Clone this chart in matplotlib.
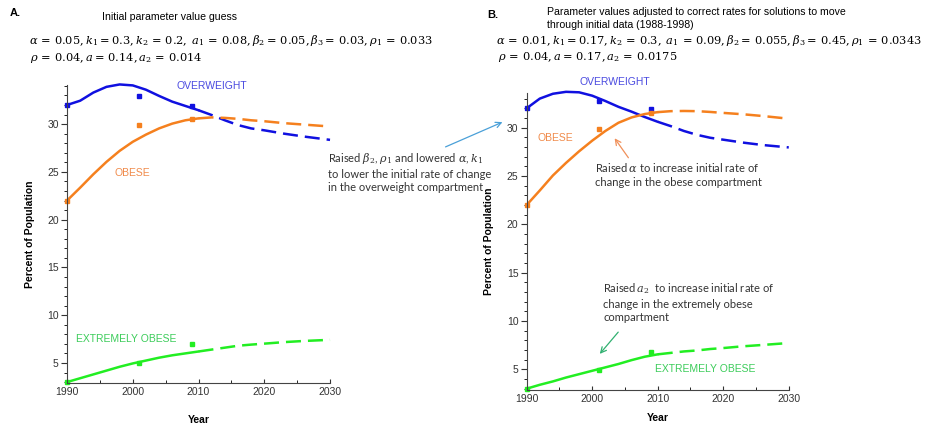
import numpy as np
import matplotlib
matplotlib.use("Agg")
import matplotlib.pyplot as plt
from matplotlib.patches import FancyArrowPatch
from matplotlib.ticker import MultipleLocator

plt.rcParams['mathtext.fontset'] = 'dejavuserif'
plt.rcParams['font.family'] = 'Liberation Sans'

years = [1990, 1992, 1994, 1996, 1998, 2000, 2002, 2004, 2006, 2008, 2010,
         2012, 2014, 2016, 2018, 2020, 2023, 2026, 2030]

# ---- panel A (initial guess) ----
a_over = [32.0, 32.45, 33.3, 33.9, 34.15, 34.05, 33.6, 32.95, 32.35, 31.9, 31.45,
          30.95, 30.4, 29.9, 29.55, 29.35, 29.0, 28.7, 28.35]
a_obese = [22.0, 23.35, 24.75, 26.05, 27.2, 28.15, 28.9, 29.55, 30.05, 30.4, 30.6,
           30.7, 30.65, 30.55, 30.4, 30.3, 30.1, 29.95, 29.75]
a_ext = [3.0, 3.4, 3.8, 4.2, 4.6, 4.95, 5.25, 5.55, 5.8, 6.0, 6.2,
         6.4, 6.6, 6.8, 6.92, 7.02, 7.18, 7.3, 7.42]

# ---- panel B (adjusted parameters) ----
b_over = [32.0, 33.0, 33.5, 33.7, 33.65, 33.3, 32.75, 32.15, 31.65, 31.1, 30.6,
          30.15, 29.65, 29.25, 28.95, 28.75, 28.45, 28.2, 27.95]
b_obese = [22.0, 23.5, 25.05, 26.35, 27.55, 28.65, 29.65, 30.5, 31.05, 31.4, 31.6,
           31.7, 31.72, 31.7, 31.62, 31.52, 31.38, 31.2, 30.92]
b_ext = [3.0, 3.4, 3.75, 4.15, 4.5, 4.85, 5.2, 5.55, 5.95, 6.3, 6.55,
         6.7, 6.85, 6.95, 7.1, 7.2, 7.38, 7.52, 7.72]

# observed data
obs_years = [1990, 2001, 2009]
a_over_obs = [32.0, 32.9, 31.85]
a_obese_obs = [22.0, 29.9, 30.5]
a_ext_obs = [3.0, 4.95, 6.96]
b_over_obs = [32.0, 32.8, 31.9]
b_obese_obs = [22.0, 29.9, 31.5]
b_ext_obs = [3.0, 4.9, 6.8]

blue = '#1010e0'
orange = '#f5801e'
green = '#22ee22'

fig = plt.figure(figsize=(9.26, 4.32), dpi=100)
axA = fig.add_axes([0.0724, 0.1134, 0.284, 0.69])
axB = fig.add_axes([0.5688, 0.0972, 0.283, 0.688])


def draw(ax, series, obs, ylim, xpad):
    yr = np.array(years)
    for vals, c in series:
        vals = np.array(vals)
        solid = yr <= 2010
        ax.plot(yr[solid], vals[solid], color=c, lw=1.8, solid_capstyle='round', clip_on=False)
        dash = yr >= 2010
        ax.plot(yr[dash], vals[dash], color=c, lw=1.8, dashes=(6, 2.8), clip_on=False)
    for vals, c in obs:
        ax.plot(obs_years, vals, 's', color=c, ms=2.5, clip_on=False)
    ax.set_xlim(1990, 2030)
    ax.set_ylim(*ylim)
    ax.spines['top'].set_visible(False)
    ax.spines['right'].set_visible(False)
    ax.spines['left'].set_color('#444444')
    ax.spines['bottom'].set_color('#444444')
    ax.set_xticks([1990, 2000, 2010, 2020, 2030])
    ax.set_yticks([5, 10, 15, 20, 25, 30])
    ax.xaxis.set_minor_locator(MultipleLocator(5))
    ax.yaxis.set_minor_locator(MultipleLocator(1))
    ax.tick_params(axis='x', direction='in', length=3, labelsize=7.5, pad=3, colors='#333333')
    ax.tick_params(axis='x', which='minor', direction='in', length=2)
    ax.tick_params(axis='y', direction='out', length=4, labelsize=7.5, pad=2, colors='#333333')
    ax.tick_params(axis='y', which='minor', direction='out', length=2)
    ax.set_xlabel('Year', fontsize=7.5, fontweight='bold', labelpad=xpad)
    ax.set_ylabel('Percent of Population', fontsize=7.5, fontweight='bold', labelpad=9)


draw(axA, [(a_over, blue), (a_obese, orange), (a_ext, green)],
     [(a_over_obs, blue), (a_obese_obs, orange), (a_ext_obs, green)], (2.9, 34.1), 13)
draw(axB, [(b_over, blue), (b_obese, orange), (b_ext, green)],
     [(b_over_obs, blue), (b_obese_obs, orange), (b_ext_obs, green)], (2.86, 33.6), 6)

lab = dict(fontsize=7.5, va='center', clip_on=False)
axA.text(2006.6, 34.0, 'OVERWEIGHT', color='#4a4ae0', **lab)
axA.text(1997.2, 24.9, 'OBESE', color='#f08a4a', **lab)
axA.text(1991.3, 7.5, 'EXTREMELY OBESE', color='#3ccc5a', **lab)
axB.text(1998.1, 34.7, 'OVERWEIGHT', color='#4a4ae0', **lab)
axB.text(1991.6, 28.9, 'OBESE', color='#f08a4a', **lab)
axB.text(2009.6, 5.0, 'EXTREMELY OBESE', color='#3ccc5a', **lab)

# annotations
note = dict(fontsize=8, color='#333333', linespacing=1.3, family='Lato')
fig.text(328 / 926, 1 - 151 / 432,
         'Raised $\\beta_2$, $\\rho_1$ and lowered $\\alpha$, $k_1$\n'
         'to lower the initial rate of change\nin the overweight compartment',
         va='top', **note)
fig.add_artist(FancyArrowPatch(
    (443 / 926, 1 - 148 / 432), (505 / 926, 1 - 121 / 432),
    transform=fig.transFigure, arrowstyle='->', mutation_scale=10, color='#4aa0d8', lw=0.9))

fig.text(595 / 926, 1 - 161 / 432,
         'Raised$\\,\\alpha$ to increase initial rate of\nchange in the obese compartment',
         va='top', **note)
fig.add_artist(FancyArrowPatch(
    (630 / 926, 1 - 160 / 432), (613 / 926, 1 - 136 / 432),
    transform=fig.transFigure, arrowstyle='->', mutation_scale=10, color='#f0905a', lw=0.9))

fig.text(603 / 926, 1 - 281 / 432,
         'Raised$\\,a_2$  to increase initial rate of\nchange in the extremely obese\ncompartment',
         va='top', **note)
fig.add_artist(FancyArrowPatch(
    (620 / 926, 1 - 330 / 432), (598 / 926, 1 - 356 / 432),
    transform=fig.transFigure, arrowstyle='->', mutation_scale=10, color='#30b070', lw=0.9))

# headers
eq = dict(fontsize=8.2, va='center')
fig.text(10 / 926, 1 - 13 / 432, 'A.', fontsize=8, fontweight='bold', va='center')
fig.text(102 / 926, 1 - 17 / 432, 'Initial parameter value guess', fontsize=7.6, va='center')
fig.text(29 / 926, 1 - 40 / 432,
         r'$\alpha\,=\,0.05, k_1 = 0.3, k_2\,=\,0.2,\;a_1\,=\,0.08, \beta_2 =\,0.05, \beta_3 =\,0.03, \rho_1\,=\,0.033$',
         **eq)
fig.text(30 / 926, 1 - 58 / 432, r'$\rho\,=\,0.04, a =\,0.14, a_2\,=\,0.014$', **eq)

fig.text(487 / 926, 1 - 15 / 432, 'B.', fontsize=8, fontweight='bold', va='center')
fig.text(547 / 926, 1 - 12 / 432, 'Parameter values adjusted to correct rates for solutions to move',
         fontsize=7.6, va='center')
fig.text(547 / 926, 1 - 25 / 432, 'through initial data (1988-1998)', fontsize=7.6, va='center')
fig.text(496 / 926, 1 - 40 / 432,
         r'$\alpha\,=\,0.01, k_1 = 0.17, k_2\,=\,0.3,\;a_1\,=\,0.09, \beta_2 =\,0.055, \beta_3 =\,0.45, \rho_1\,=\,0.0343$',
         **eq)
fig.text(498 / 926, 1 - 57 / 432, r'$\rho\,=\,0.04, a =\,0.17, a_2\,=\,0.0175$', **eq)

fig.savefig('out.png', dpi=100)
